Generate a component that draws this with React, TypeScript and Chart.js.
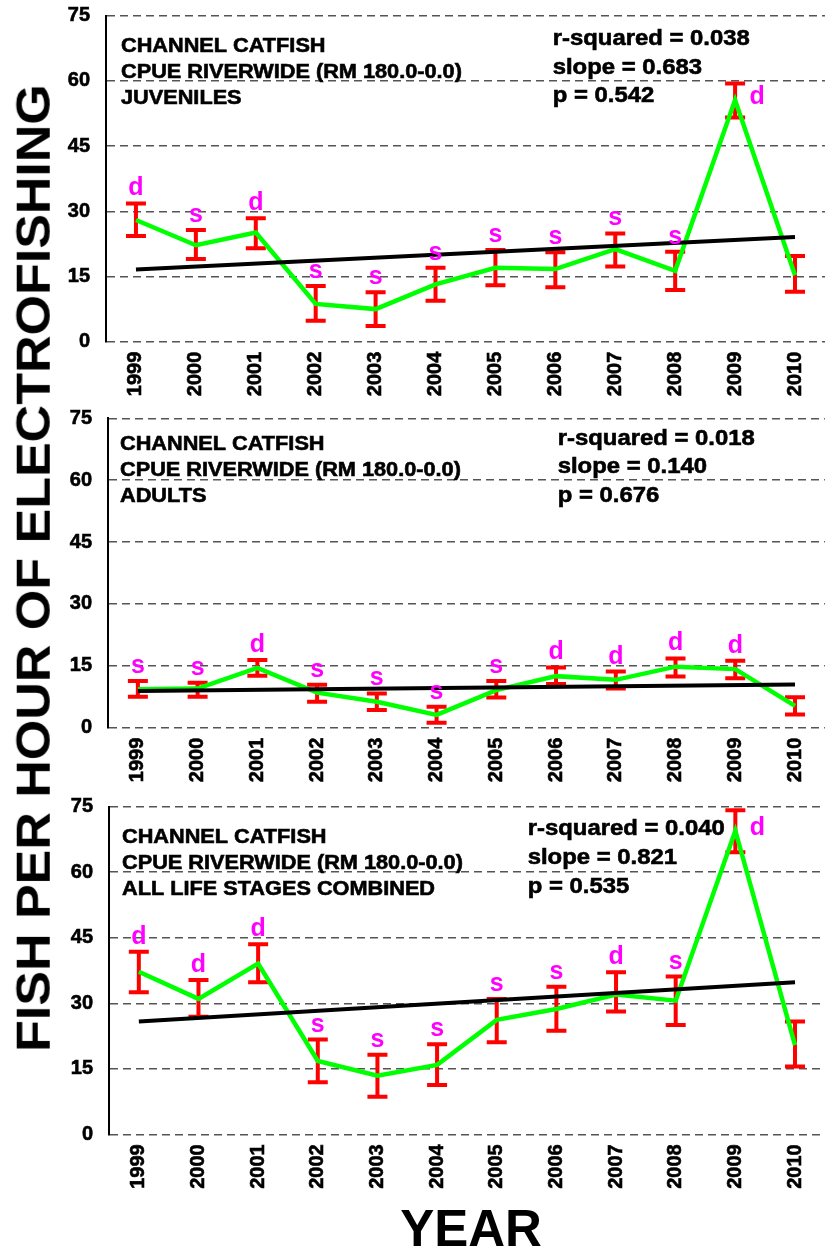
import React, { useEffect, useRef } from "react";
import { Chart, registerables } from "chart.js";

Chart.register(...registerables);

const years = ["1999", "2000", "2001", "2002", "2003", "2004", "2005", "2006", "2007", "2008", "2009", "2010"];
const yTicks = [0, 15, 30, 45, 60, 75];

const juvMean = [28.0, 22.2, 25.1, 8.7, 7.5, 13.2, 17.0, 16.7, 21.3, 16.3, 55.6, 15.3];
const juvHigh = [31.8, 25.7, 28.4, 12.8, 11.4, 17.0, 21.1, 20.6, 24.9, 20.7, 59.4, 19.7];
const juvLow = [24.3, 19.0, 21.5, 4.8, 3.6, 9.4, 13.0, 12.5, 17.3, 11.9, 51.6, 11.5];
const juvLetters = ["d", "s", "d", "s", "s", "s", "s", "s", "s", "s", "d", ""];
const juvTrend = [16.6, null, null, null, null, null, null, null, null, null, null, 24.1];
const juvTitle = ["CHANNEL CATFISH", "CPUE RIVERWIDE (RM 180.0-0.0)", "JUVENILES"];
const juvStats = ["r-squared = 0.038", "slope = 0.683", "p = 0.542"];

const adultMean = [9.3, 9.5, 14.5, 8.5, 6.3, 3.1, 9.1, 12.5, 11.6, 14.8, 14.2, 5.3];
const adultHigh = [11.3, 10.9, 16.4, 10.4, 8.3, 5.1, 11.3, 14.6, 13.6, 16.8, 16.2, 7.4];
const adultLow = [7.5, 7.5, 12.6, 6.3, 4.3, 1.2, 7.3, 10.6, 9.5, 12.4, 12.0, 3.2];
const adultLetters = ["s", "s", "d", "s", "s", "s", "s", "d", "d", "d", "d", ""];
const adultTrend = [8.9, null, null, null, null, null, null, null, null, null, null, 10.5];
const adultTitle = ["CHANNEL CATFISH", "CPUE RIVERWIDE (RM 180.0-0.0)", "ADULTS"];
const adultStats = ["r-squared = 0.018", "slope = 0.140", "p = 0.676"];

const allMean = [37.2, 31.0, 39.1, 16.8, 13.4, 15.9, 26.2, 28.7, 32.0, 30.6, 69.5, 20.4];
const allHigh = [41.8, 35.3, 43.5, 21.7, 18.2, 20.6, 31.0, 33.8, 37.1, 36.1, 74.2, 25.8];
const allLow = [32.5, 26.9, 34.8, 11.9, 8.6, 11.3, 21.1, 23.7, 28.1, 25.0, 64.6, 15.5];
const allLetters = ["d", "d", "d", "s", "s", "s", "s", "s", "d", "s", "d", ""];
const allTrend = [25.8, null, null, null, null, null, null, null, null, null, null, 34.8];
const allTitle = ["CHANNEL CATFISH", "CPUE RIVERWIDE (RM 180.0-0.0)", "ALL LIFE STAGES COMBINED"];
const allStats = ["r-squared = 0.040", "slope = 0.821", "p = 0.535"];

const FONT = "'Liberation Sans', Arial, Helvetica, sans-serif";
const STRETCH = 1.085;

type PanelProps = {
  top: number;
  height: number;
  axisLeft: number;
  padTop: number;
  xAxisHeight: number;
  mean: number[];
  high: number[];
  low: number[];
  letters: string[];
  trend: (number | null)[];
  title: string[];
  stats: string[];
  rightLetterIdx: number;
  titlePos: { x: number; y: number; dy: number };
  statsPos: { x: number; y: number; dy: number };
};

function drawText(ctx: any, t: string, x: number, y: number) {
  ctx.save();
  ctx.translate(x, y);
  ctx.scale(STRETCH, 1);
  ctx.strokeText(t, 0, 0);
  ctx.fillText(t, 0, 0);
  ctx.restore();
}

function Panel(p: PanelProps) {
  const ref = useRef<HTMLCanvasElement | null>(null);
  useEffect(() => {
    if (!ref.current) return;
    const overlay = {
      id: "overlay",
      beforeDatasetsDraw(chart: any) {
        const ctx = chart.ctx;
        const xs = chart.scales.x;
        const ys = chart.scales.y;
        ctx.save();
        ctx.strokeStyle = "#FF0000";
        ctx.lineWidth = 4;
        ctx.lineCap = "butt";
        for (let i = 0; i < p.mean.length; i++) {
          const x = xs.getPixelForValue(i);
          const yh = ys.getPixelForValue(p.high[i]);
          const yl = ys.getPixelForValue(p.low[i]);
          ctx.beginPath();
          ctx.moveTo(x, yh);
          ctx.lineTo(x, yl);
          ctx.moveTo(x - 10, yh);
          ctx.lineTo(x + 10, yh);
          ctx.moveTo(x - 10, yl);
          ctx.lineTo(x + 10, yl);
          ctx.stroke();
        }
        ctx.restore();
      },
      afterDatasetsDraw(chart: any) {
        const ctx = chart.ctx;
        const xs = chart.scales.x;
        const ys = chart.scales.y;
        ctx.save();
        ctx.fillStyle = "#FF00FF";
        ctx.font = `bold 25px ${FONT}`;
        ctx.textAlign = "center";
        ctx.textBaseline = "alphabetic";
        for (let i = 0; i < p.letters.length; i++) {
          if (!p.letters[i]) continue;
          const x = xs.getPixelForValue(i);
          if (i === p.rightLetterIdx) {
            ctx.fillText(p.letters[i], x + 22, ys.getPixelForValue(p.mean[i]) + 4);
          } else {
            ctx.fillText(p.letters[i], x, ys.getPixelForValue(p.high[i]) - 8);
          }
        }
        ctx.fillStyle = "#000";
        ctx.strokeStyle = "#000";
        ctx.lineWidth = 0.6;
        ctx.textAlign = "left";
        ctx.font = `bold 20px ${FONT}`;
        p.title.forEach((t, k) => drawText(ctx, t, p.titlePos.x, p.titlePos.y + k * p.titlePos.dy));
        ctx.font = `bold 22px ${FONT}`;
        p.stats.forEach((t, k) => drawText(ctx, t, p.statsPos.x, p.statsPos.y + k * p.statsPos.dy));
        ctx.restore();
      },
    };
    const chart = new Chart(ref.current, {
      type: "line",
      data: {
        labels: years,
        datasets: [
          { data: p.trend, borderColor: "#000000", borderWidth: 4, pointRadius: 0, spanGaps: true, order: 0 },
          { data: p.mean, borderColor: "#00FF00", borderWidth: 4.5, pointRadius: 0, tension: 0, order: 1 },
        ],
      },
      options: {
        animation: false,
        responsive: false,
        devicePixelRatio: 1,
        layout: { padding: { top: p.padTop, left: 0, right: 0, bottom: 0 } },
        plugins: { legend: { display: false }, tooltip: { enabled: false }, title: { display: false } },
        scales: {
          x: {
            type: "category",
            offset: true,
            grid: { display: false, drawTicks: false },
            border: { display: false },
            ticks: {
              autoSkip: false,
              maxRotation: 90,
              minRotation: 90,
              padding: 10,
              color: "#000",
              textStrokeColor: "#000",
              textStrokeWidth: 0.6,
              font: { family: FONT, size: 20, weight: "bold" },
            },
            afterFit: (s: any) => { s.height = p.xAxisHeight; },
          },
          y: {
            min: 0,
            max: 75,
            afterBuildTicks: (s: any) => { s.ticks = yTicks.map((v) => ({ value: v })); },
            grid: { color: "#555555", lineWidth: 1.5, drawTicks: false },
            border: { display: true, color: "#000000", width: 2, dash: [8, 5] },
            ticks: {
              padding: 16,
              color: "#000",
              textStrokeColor: "#000",
              textStrokeWidth: 0.6,
              font: { family: FONT, size: 20, weight: "bold" },
            },
            afterFit: (s: any) => {
              s.width = p.axisLeft;
              s.paddingTop = 0;
              s.paddingBottom = 0;
            },
          },
        },
      },
      plugins: [overlay],
    } as any);
    return () => chart.destroy();
  }, []);
  return (
    <canvas
      ref={ref}
      width={769}
      height={p.height}
      style={{ position: "absolute", left: 60, top: p.top, width: 769, height: p.height }}
    />
  );
}

export default function App() {
  return (
    <div style={{ position: "absolute", left: 0, top: 0, width: 825, height: 1249, background: "#fff", overflow: "hidden" }}>
      <Panel top={0} height={400} axisLeft={46} padTop={15.7} xAxisHeight={58.3}
        mean={juvMean} high={juvHigh} low={juvLow} letters={juvLetters} trend={juvTrend}
        title={juvTitle} stats={juvStats} rightLetterIdx={10}
        titlePos={{ x: 61, y: 51.7, dy: 26 }} statsPos={{ x: 492.7, y: 45, dy: 28.7 }} />
      <Panel top={400} height={390} axisLeft={48} padTop={18.3} xAxisHeight={62.3}
        mean={adultMean} high={adultHigh} low={adultLow} letters={adultLetters} trend={adultTrend}
        title={adultTitle} stats={adultStats} rightLetterIdx={-1}
        titlePos={{ x: 60, y: 50, dy: 26 }} statsPos={{ x: 497.7, y: 45, dy: 28.3 }} />
      <Panel top={790} height={405} axisLeft={49} padTop={16.7} xAxisHeight={60.7}
        mean={allMean} high={allHigh} low={allLow} letters={allLetters} trend={allTrend}
        title={allTitle} stats={allStats} rightLetterIdx={10}
        titlePos={{ x: 62, y: 53.3, dy: 26 }} statsPos={{ x: 467.7, y: 45, dy: 29.2 }} />
      <div style={{ position: "absolute", left: 32.5, top: 567.5, transform: "translate(-50%, -50%) rotate(-90deg) scale(1, 0.94)", whiteSpace: "nowrap", fontFamily: FONT, fontWeight: "bold", fontSize: 52, lineHeight: "52px", color: "#000" }}>
        FISH PER HOUR OF ELECTROFISHING
      </div>
      <div style={{ position: "absolute", left: 471, top: 1228, transform: "translate(-50%, -50%)", whiteSpace: "nowrap", fontFamily: FONT, fontWeight: "bold", fontSize: 51, lineHeight: "51px", color: "#000" }}>
        YEAR
      </div>
    </div>
  );
}
